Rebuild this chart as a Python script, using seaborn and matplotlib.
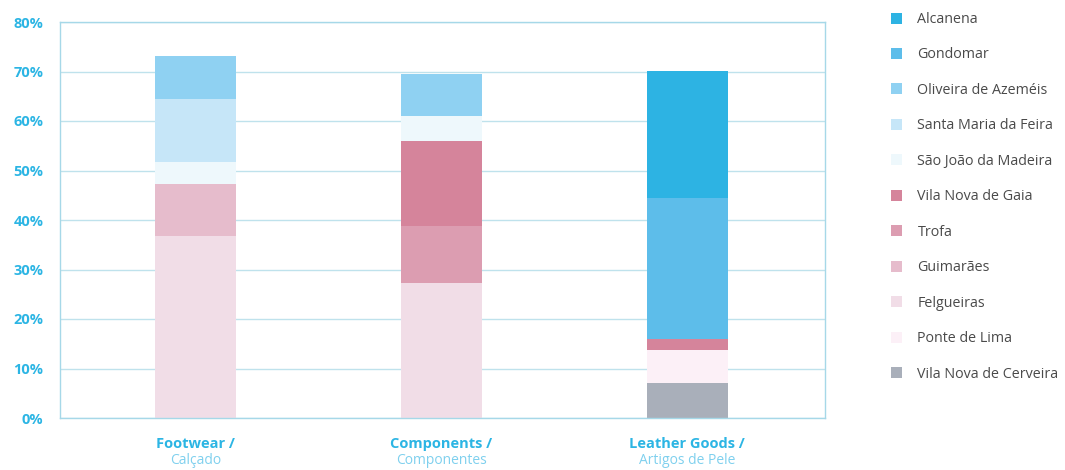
import matplotlib
matplotlib.use("Agg")
import matplotlib.pyplot as plt
from matplotlib.patches import Patch
import seaborn as sns
import pandas as pd
import numpy as np

# ---- data ----
categories = ["Footwear", "Components", "Leather Goods"]
category_en = ["Footwear /", "Components /", "Leather Goods /"]
category_pt = ["Calçado", "Componentes", "Artigos de Pele"]

# stacking order: bottom -> top
cities = ["Vila Nova de Cerveira", "Ponte de Lima", "Felgueiras", "Guimarães", "Trofa",
          "Vila Nova de Gaia", "São João da Madeira", "Santa Maria da Feira",
          "Oliveira de Azeméis", "Gondomar", "Alcanena"]

vila_nova_de_cerveira = [0.0, 0.0, 7.0]
ponte_de_lima = [0.0, 0.0, 6.7]
felgueiras = [36.8, 27.3, 0.0]
guimaraes = [10.4, 0.0, 0.0]
trofa = [0.0, 11.4, 0.0]
vila_nova_de_gaia = [0.0, 17.3, 2.2]
sao_joao_da_madeira = [4.5, 5.1, 0.0]
santa_maria_da_feira = [12.8, 0.0, 0.0]
oliveira_de_azemeis = [8.6, 8.4, 0.0]
gondomar = [0.0, 0.0, 28.6]
alcanena = [0.0, 0.0, 25.6]

series = [vila_nova_de_cerveira, ponte_de_lima, felgueiras, guimaraes, trofa,
          vila_nova_de_gaia, sao_joao_da_madeira, santa_maria_da_feira,
          oliveira_de_azemeis, gondomar, alcanena]

colors = ["#a9afba", "#fcf0f7", "#f1dde7", "#e6bccc", "#dc9db1",
          "#d5849b", "#eef8fc", "#c6e6f8", "#8fd1f2", "#5dbdea", "#2db3e3"]

y_ticks = [0, 10, 20, 30, 40, 50, 60, 70, 80]
y_ticklabels = ["0%", "10%", "20%", "30%", "40%", "50%", "60%", "70%", "80%"]

# ---- style ----
sns.set_theme(style="white")
plt.rcParams["font.family"] = ["Open Sans", "DejaVu Sans"]

CYAN = "#2cb5e4"
CYAN_LIGHT = "#7fd0ee"
GRID = "#bfe2ec"
FRAME = "#a6d8e8"

fig = plt.figure(figsize=(10.65, 4.70), dpi=100)
ax = fig.add_axes([60 / 1065, 52 / 470, 765 / 1065, 396 / 470])

bottom = np.zeros(len(categories))
for name, vals, col in zip(cities, series, colors):
    df = pd.DataFrame({"category": categories, "value": vals})
    sns.barplot(data=df, x="category", y="value", order=categories,
                bottom=bottom, color=col, width=0.33, linewidth=0,
                saturation=1, ax=ax, errorbar=None)
    bottom = bottom + np.array(vals)

ax.set_ylim(0, 80)
ax.set_xlim(-0.55, 2.56)
ax.set_yticks(y_ticks)
ax.set_yticklabels(y_ticklabels, color=CYAN, fontweight="bold", fontsize=10.5)
ax.tick_params(axis="y", length=0, pad=12)
ax.set_xticks([])
ax.set_xlabel("")
ax.set_ylabel("")
ax.grid(axis="y", color=GRID, linewidth=1)
ax.set_axisbelow(True)
for sp in ax.spines.values():
    sp.set_visible(True)
    sp.set_color(FRAME)
    sp.set_linewidth(1)

trans = matplotlib.transforms.blended_transform_factory(ax.transData, fig.transFigure)
for i, (en, pt) in enumerate(zip(category_en, category_pt)):
    ax.text(i, 1 - 444 / 470, en, transform=trans, ha="center", va="center",
            color=CYAN, fontweight="bold", fontsize=10.5)
    ax.text(i, 1 - 461 / 470, pt, transform=trans, ha="center", va="center",
            color=CYAN_LIGHT, fontsize=10)

# legend (top -> bottom matches visual stacking)
handles = [Patch(facecolor=c, edgecolor="none") for c in colors[::-1]]
leg = fig.legend(handles, cities[::-1], loc="upper left",
                 bbox_to_anchor=(891 / 1065, 1 - 12 / 470),
                 frameon=False, fontsize=10.3, handlelength=0.8, handleheight=0.8,
                 handletextpad=1.05, labelspacing=1.43, borderpad=0, borderaxespad=0)
for t in leg.get_texts():
    t.set_color("#4a4a4a")

fig.savefig("out.png", dpi=100, facecolor="white")
